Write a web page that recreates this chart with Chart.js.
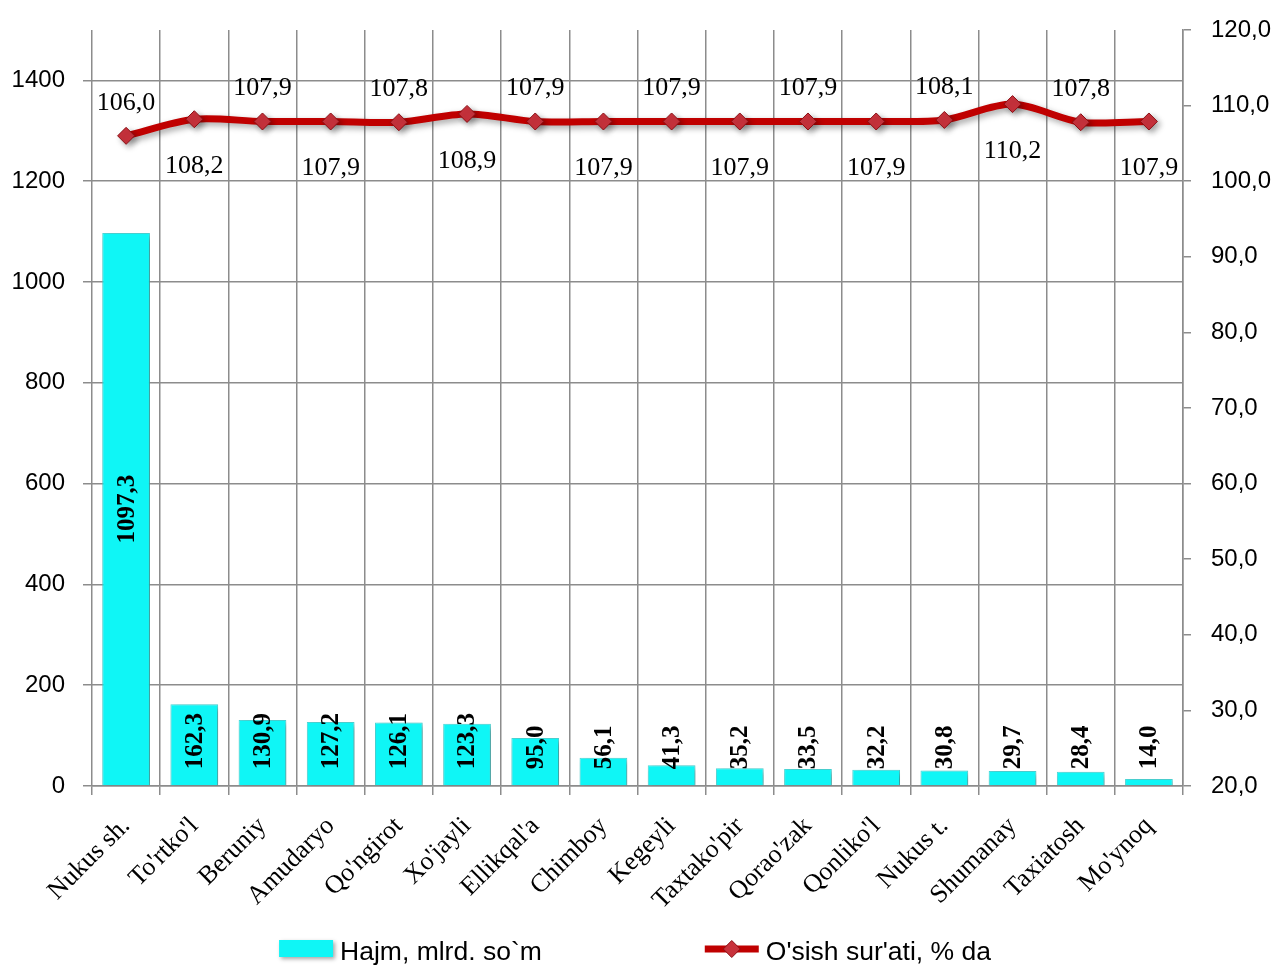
<!DOCTYPE html>
<html>
<head>
<meta charset="utf-8">
<script src="https://cdn.jsdelivr.net/npm/chart.js@4.4.1/dist/chart.umd.min.js"></script>
<style>
  html, body { margin: 0; padding: 0; background: #fff; }
  #wrap { width: 1278px; height: 965px; position: relative; }
</style>
</head>
<body>
<div id="wrap"><canvas id="chart" width="1278" height="965"></canvas></div>
<script>
const categories = ["Nukus sh.", "To'rtko'l", "Beruniy", "Amudaryo", "Qo'ngirot", "Xo'jayli", "Ellikqal'a", "Chimboy", "Kegeyli", "Taxtako'pir", "Qorao'zak", "Qonliko'l", "Nukus t.", "Shumanay", "Taxiatosh", "Mo'ynoq"];
const volume = [1097.3, 162.3, 130.9, 127.2, 126.1, 123.3, 95.0, 56.1, 41.3, 35.2, 33.5, 32.2, 30.8, 29.7, 28.4, 14.0];
const growth = [106.0, 108.2, 107.9, 107.9, 107.8, 108.9, 107.9, 107.9, 107.9, 107.9, 107.9, 107.9, 108.1, 110.2, 107.8, 107.9];
const volumeLabel = "Hajm, mlrd. so`m";
const growthLabel = "O'sish sur'ati, % da";

const GRID = "#8c8c8c";
const BAR = "#0ff6f6";
const LINE = "#c00000";
const comma = v => v.toFixed(1).replace(".", ",");

// shadow under bars and the line
const shadowPlugin = {
  id: "shadow",
  beforeDatasetDraw(chart) {
    const ctx = chart.ctx;
    ctx.save();
    ctx.shadowColor = "rgba(0,0,0,0.35)";
    ctx.shadowBlur = 6;
    ctx.shadowOffsetX = 3;
    ctx.shadowOffsetY = 3;
  },
  afterDatasetDraw(chart) {
    chart.ctx.restore();
  }
};

// value labels
const labelPlugin = {
  id: "valueLabels",
  afterDatasetsDraw(chart) {
    const ctx = chart.ctx;
    // bars: rotated bold numbers
    const barMeta = chart.getDatasetMeta(1);
    ctx.save();
    ctx.font = "bold 25px 'Liberation Serif'";
    ctx.fillStyle = "#000";
    ctx.textAlign = "center";
    ctx.textBaseline = "middle";
    barMeta.data.forEach((bar, i) => {
      const txt = comma(volume[i]);
      const len = ctx.measureText(txt).width;
      const mid = (bar.y + bar.base) / 2;
      const cy = Math.min(mid, bar.base - 16 - len / 2);
      ctx.save();
      ctx.translate(bar.x + 1, cy);
      ctx.rotate(-Math.PI / 2);
      ctx.fillText(txt, 0, 0);
      ctx.restore();
    });
    // line: alternate above / below
    const lineMeta = chart.getDatasetMeta(0);
    ctx.font = "26px 'Liberation Serif'";
    lineMeta.data.forEach((pt, i) => {
      const txt = comma(growth[i]);
      const dy = i % 2 === 0 ? -33 : 47;
      ctx.fillText(txt, pt.x, pt.y + dy);
    });
    ctx.restore();
  }
};

// legend drawn at the bottom
const legendPlugin = {
  id: "bottomLegend",
  afterDraw(chart) {
    const ctx = chart.ctx;
    ctx.save();
    ctx.font = "26.5px 'Liberation Sans'";
    const w1 = ctx.measureText(volumeLabel).width;
    const w2 = ctx.measureText(growthLabel).width;
    const sym = 54, gapTxt = 7, gapItems = 163;
    const total = sym + gapTxt + w1 + gapItems + sym + gapTxt + w2;
    let x = chart.width / 2 - 4 - total / 2;
    const y = 949;
    // bar swatch
    ctx.shadowColor = "rgba(0,0,0,0.35)";
    ctx.shadowBlur = 4;
    ctx.shadowOffsetX = 2;
    ctx.shadowOffsetY = 2;
    ctx.fillStyle = BAR;
    ctx.fillRect(x, y - 9, sym, 17);
    ctx.shadowColor = "transparent";
    ctx.fillStyle = "#000";
    ctx.textBaseline = "middle";
    ctx.textAlign = "left";
    ctx.fillText(volumeLabel, x + sym + gapTxt, y + 4);
    x += sym + gapTxt + w1 + gapItems;
    // line swatch
    ctx.strokeStyle = LINE;
    ctx.lineWidth = 7;
    ctx.beginPath();
    ctx.moveTo(x, y);
    ctx.lineTo(x + sym, y);
    ctx.stroke();
    ctx.fillStyle = "#c8323c";
    ctx.strokeStyle = "#8a0f14";
    ctx.lineWidth = 1;
    ctx.beginPath();
    const cx = x + sym / 2;
    ctx.moveTo(cx, y - 8.5);
    ctx.lineTo(cx + 8.5, y);
    ctx.lineTo(cx, y + 8.5);
    ctx.lineTo(cx - 8.5, y);
    ctx.closePath();
    ctx.fill();
    ctx.stroke();
    ctx.fillStyle = "#000";
    ctx.fillText(growthLabel, x + sym + gapTxt, y + 4);
    ctx.restore();
  }
};

const ctx = document.getElementById("chart").getContext("2d");
new Chart(ctx, {
  data: {
    labels: categories,
    datasets: [
      {
        type: "line",
        label: growthLabel,
        data: growth,
        yAxisID: "y1",
        borderColor: LINE,
        borderWidth: 7,
        tension: 0.3,
        pointStyle: "rectRot",
        pointRadius: 8.5,
        pointBackgroundColor: "#c8323c",
        pointBorderColor: "#8a0f14",
        pointBorderWidth: 1,
        order: 0
      },
      {
        type: "bar",
        label: volumeLabel,
        data: volume,
        yAxisID: "y",
        backgroundColor: BAR,
        borderColor: "#4cd8d8",
        borderWidth: 1,
        categoryPercentage: 1,
        barPercentage: 0.7,
        order: 1
      }
    ]
  },
  options: {
    responsive: false,
    animation: false,
    layout: { padding: { top: 30, bottom: 0, left: 0, right: 0 } },
    plugins: {
      legend: { display: false },
      tooltip: { enabled: false }
    },
    scales: {
      x: {
        offset: true,
        grid: { offset: true, color: GRID, lineWidth: 1.5, tickLength: 9 },
        border: { color: GRID, width: 1.5 },
        ticks: {
          minRotation: 45,
          maxRotation: 45,
          padding: 16,
          color: "#000",
          font: { family: "'Liberation Serif'", size: 26 }
        },
        afterFit(scale) { scale.height = 179; }
      },
      y: {
        position: "left",
        min: 0,
        max: 1500,
        grid: { color: GRID, lineWidth: 1.5, tickLength: 9 },
        border: { display: false },
        ticks: {
          stepSize: 200,
          includeBounds: false,
          padding: 18,
          color: "#000",
          callback: v => String(v),
          font: { family: "'Liberation Sans'", size: 24, lineHeight: 0.8 }
        },
        afterFit(scale) { scale.width = 92; }
      },
      y1: {
        position: "right",
        min: 20,
        max: 120,
        grid: { drawOnChartArea: false, color: GRID, lineWidth: 1.5, tickLength: 8 },
        border: { color: GRID, width: 1.5 },
        ticks: {
          stepSize: 10,
          padding: 20,
          color: "#000",
          callback: v => comma(v),
          font: { family: "'Liberation Sans'", size: 24, lineHeight: 0.8 }
        },
        afterFit(scale) { scale.width = 95; }
      }
    }
  },
  plugins: [shadowPlugin, labelPlugin, legendPlugin]
});
</script>
</body>
</html>
